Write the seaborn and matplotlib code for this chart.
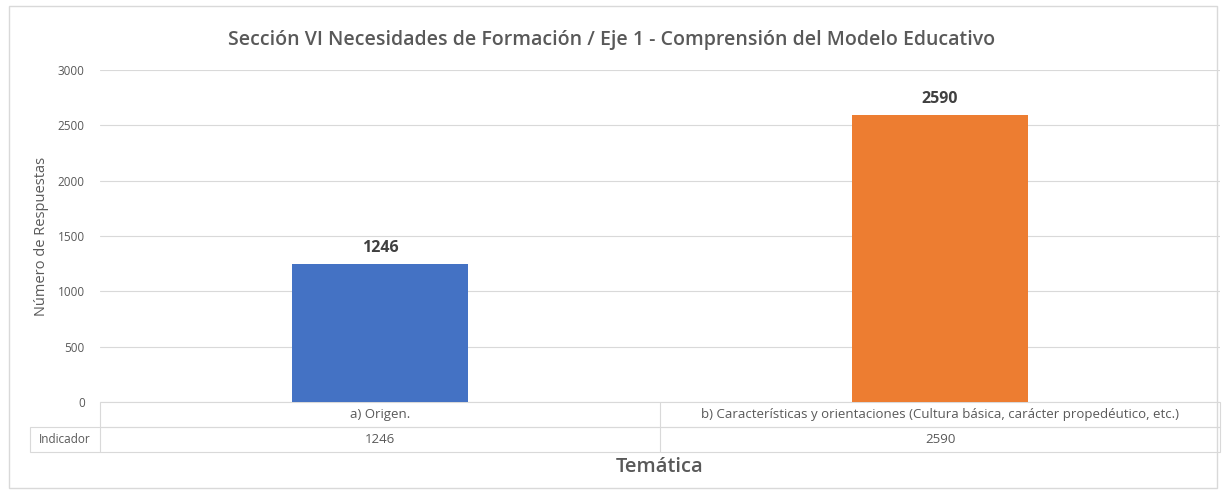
import pandas as pd
import seaborn as sns
import matplotlib
matplotlib.use("Agg")
from matplotlib import pyplot as plt
from matplotlib.patches import Rectangle
from matplotlib.lines import Line2D

categorias = ["a) Origen.",
              "b) Características y orientaciones (Cultura básica, carácter propedéutico, etc.)"]
respuestas = [1246, 2590]
colores = ["#4472C4", "#ED7D31"]
yticks = [0, 500, 1000, 1500, 2000, 2500, 3000]

sns.set_style("white")
plt.rcParams['font.family'] = ['Open Sans', 'DejaVu Sans']
gris = "#595959"
linea = "#d9d9d9"

df = pd.DataFrame({"tematica": categorias, "respuestas": respuestas})

fig = plt.figure(figsize=(12.23, 4.92), dpi=100)
ax = fig.add_axes([100 / 1223, 1 - 402 / 492, 1120 / 1223, 332 / 492])

sns.barplot(data=df, x="tematica", y="respuestas", hue="tematica",
            palette=colores, width=0.315, saturation=1, legend=False,
            ax=ax, zorder=3, linewidth=0)

for c in ax.containers:
    ax.bar_label(c, fmt="%d", padding=6, fontsize=11.5, fontweight="bold", color="#404040")

ax.set_ylim(0, 3000)
ax.set_yticks(yticks)
ax.set_yticklabels([str(v) for v in yticks], fontsize=8.5, color=gris)
ax.yaxis.grid(True, color=linea, linewidth=0.8)
ax.set_axisbelow(True)
ax.tick_params(axis="both", length=0, pad=11)
ax.set_xticks([])
ax.set_xlabel("")
ax.set_ylabel("Número de Respuestas", fontsize=10.5, color=gris, labelpad=6)
sns.despine(ax=ax, left=True, bottom=True)

# tabla de datos debajo del eje (coordenadas de eje: x en [0,1], filas de 25 px)
fila = 25 / 332
izq = -70 / 1120
n = len(categorias)
filas = [("", categorias), ("Indicador", [str(v) for v in respuestas])]
for i, (etiqueta, celdas) in enumerate(filas):
    y0 = -(i + 1) * fila
    x0 = izq if etiqueta else 0
    ax.add_patch(Rectangle((x0, y0), 1 - x0, fila, transform=ax.transAxes,
                           fill=False, edgecolor=linea, linewidth=0.8, clip_on=False))
    if etiqueta:
        ax.add_line(Line2D([0, 0], [y0, y0 + fila], transform=ax.transAxes,
                           color=linea, linewidth=0.8, clip_on=False))
        ax.text(izq / 2, y0 + fila / 2, etiqueta, transform=ax.transAxes,
                ha="center", va="center", fontsize=8.5, color=gris)
    for j, txt in enumerate(celdas):
        if j > 0:
            ax.add_line(Line2D([j / n, j / n], [y0, y0 + fila], transform=ax.transAxes,
                               color=linea, linewidth=0.8, clip_on=False))
        ax.text((j + 0.5) / n, y0 + fila / 2, txt, transform=ax.transAxes,
                ha="center", va="center", fontsize=9.5, color=gris)

fig.text(0.5, 1 - 40 / 492,
         "Sección VI Necesidades de Formación / Eje 1 - Comprensión del Modelo Educativo",
         ha="center", va="center", fontsize=14, fontweight="semibold", color=gris)
fig.text(660 / 1223, 1 - 467 / 492, "Temática", ha="center", va="center",
         fontsize=14.5, fontweight="semibold", color=gris)

fig.patches.append(Rectangle((9 / 1223, 4 / 492), 1 - 15 / 1223, 1 - 10 / 492,
                             transform=fig.transFigure, fill=False,
                             edgecolor=linea, linewidth=1))

fig.savefig("out.png", dpi=100)
